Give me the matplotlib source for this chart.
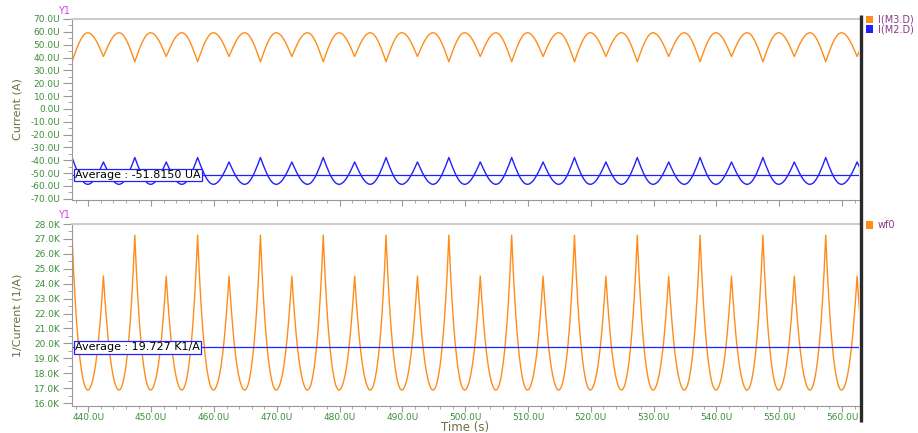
import numpy as np
import matplotlib
matplotlib.use("Agg")
import matplotlib.pyplot as plt
from matplotlib.patches import Rectangle
from matplotlib.lines import Line2D
from matplotlib.ticker import MultipleLocator, FuncFormatter
import matplotlib.transforms as mtransforms

# one 10U period of each waveform, read every 0.25U off the picture
step = 0.25
t_start = 437.4
n_cycles = 13

m3_cycle = [36.7, 40.2, 43.6, 46.9, 49.9, 52.6, 54.9, 56.8, 58.2, 59.0, 59.3,
            59.1, 58.4, 57.3, 55.8, 53.9, 51.7, 49.2, 46.4, 43.6,
            40.8, 43.6, 46.4, 49.2, 51.7, 53.9, 55.8, 57.3, 58.4, 59.1,
            59.3, 59.0, 58.2, 56.8, 54.9, 52.6, 49.9, 46.9, 43.6, 40.2]

m2_cycle = [-37.9, -41.2, -44.4, -47.4, -50.2, -52.7, -54.8, -56.5, -57.8, -58.5, -58.8,
            -58.6, -57.9, -56.9, -55.5, -53.7, -51.6, -49.3, -46.8, -44.1,
            -41.4, -44.1, -46.8, -49.3, -51.6, -53.7, -55.5, -56.9, -57.9, -58.6,
            -58.8, -58.5, -57.8, -56.5, -54.8, -52.7, -50.2, -47.4, -44.4, -41.2]

avg_m2 = -51.815      # uA
avg_wf0 = 19.727      # K 1/A

# the waveform repeats, so the read period is laid end to end
i_m3 = np.array(m3_cycle * n_cycles)
i_m2 = np.array(m2_cycle * n_cycles)
t = t_start + step * np.arange(len(i_m3))
wf0 = 1000.0 / i_m3   # 1/I(M3.D) in K

W, H = 918, 433
fig = plt.figure(figsize=(W / 100, H / 100), dpi=100)

def fx(px):
    return px / W

def fy(py):
    return 1 - py / H

ax1 = fig.add_axes([fx(72), fy(200), fx(859) - fx(72), fy(19) - fy(200)])
ax2 = fig.add_axes([fx(72), fy(406), fx(859) - fx(72), fy(224) - fy(406)])

orange = "#ff8c1a"
blue = "#2020ff"
green = "#3a8f3a"
olive = "#6e6e40"
purple = "#8a3a8a"

ax1.plot(t, i_m3, color=orange, lw=1)
ax1.plot(t, i_m2, color=blue, lw=1)
ax1.set_ylim(-71, 70)
ax1.axhline(avg_m2, color=blue, lw=0.9)

ax2.plot(t, wf0, color=orange, lw=1)
ax2.set_ylim(15.8, 28)
ax2.axhline(avg_wf0, color=blue, lw=0.9)

for ax in (ax1, ax2):
    ax.set_xlim(437.4, 562.7)
    ax.xaxis.set_major_locator(MultipleLocator(10))
    ax.xaxis.set_minor_locator(MultipleLocator(2))
    ax.spines["right"].set_visible(False)
    ax.spines["left"].set_color("#999999")
    ax.spines["bottom"].set_color("#999999")
    ax.spines["top"].set_color("#cccccc")
    ax.spines["top"].set_linewidth(1.5)
    ax.tick_params(axis="both", which="both", colors="#999999", labelcolor=green,
                   labelsize=6.5, direction="out")
    ax.tick_params(axis="y", which="major", length=6.5, pad=2)
    ax.tick_params(axis="y", which="minor", length=3)
    ax.tick_params(axis="x", which="major", length=4.5, pad=0.5)
    ax.tick_params(axis="x", which="minor", length=2.5)

ax1.yaxis.set_major_locator(MultipleLocator(10))
ax1.yaxis.set_minor_locator(MultipleLocator(5))
ax1.yaxis.set_major_formatter(FuncFormatter(lambda v, p: "%.1fU" % v))
ax1.tick_params(axis="x", labelbottom=False)

ax2.yaxis.set_major_locator(MultipleLocator(1))
ax2.yaxis.set_minor_locator(MultipleLocator(0.5))
ax2.yaxis.set_major_formatter(FuncFormatter(lambda v, p: "%.1fK" % v))
ax2.xaxis.set_major_formatter(FuncFormatter(lambda v, p: "%.1fU" % v))

# average markers
for ax, val, txt in ((ax1, avg_m2, "Average : -51.8150 UA"),
                     (ax2, avg_wf0, "Average : 19.727 K1/A")):
    trans = mtransforms.blended_transform_factory(ax.transAxes, ax.transData)
    ax.text(0.004, val, txt, transform=trans, fontsize=8, color="black",
            va="center", ha="left", zorder=5,
            bbox=dict(boxstyle="square,pad=0.1", fc="white", ec=blue, lw=0.9))

# axis titles
fig.text(fx(18), fy(109.5), "Current (A)", rotation=90, ha="center", va="center",
         fontsize=8, color=olive)
fig.text(fx(18), fy(315), "1/Current (1/A)", rotation=90, ha="center", va="center",
         fontsize=8, color=olive)
fig.text(fx(465.5), fy(427), "Time (s)", ha="center", va="center",
         fontsize=8.5, color=olive)
fig.text(fx(64), fy(11), "Y1", ha="center", va="center", fontsize=7, color="#e23ce2")
fig.text(fx(64), fy(215), "Y1", ha="center", va="center", fontsize=7, color="#e23ce2")

# thick separator on the right
fig.add_artist(Line2D([fx(860.5), fx(860.5)], [fy(15), fy(422)], color="#2a2a2a",
                      lw=2.4, solid_capstyle="butt"))

# legend entries
legend = [("I(M3.D)", orange, 19.5), ("I(M2.D)", blue, 29), ("wf0", orange, 225)]
for name, col, yc in legend:
    fig.add_artist(Rectangle((fx(866), fy(yc + 3.8)), fx(7), fy(0) - fy(7.6),
                             transform=fig.transFigure, fc=col, ec="none"))
    fig.text(fx(878), fy(yc), name, ha="left", va="center", fontsize=7, color=purple)

fig.savefig("out.png", dpi=100)
